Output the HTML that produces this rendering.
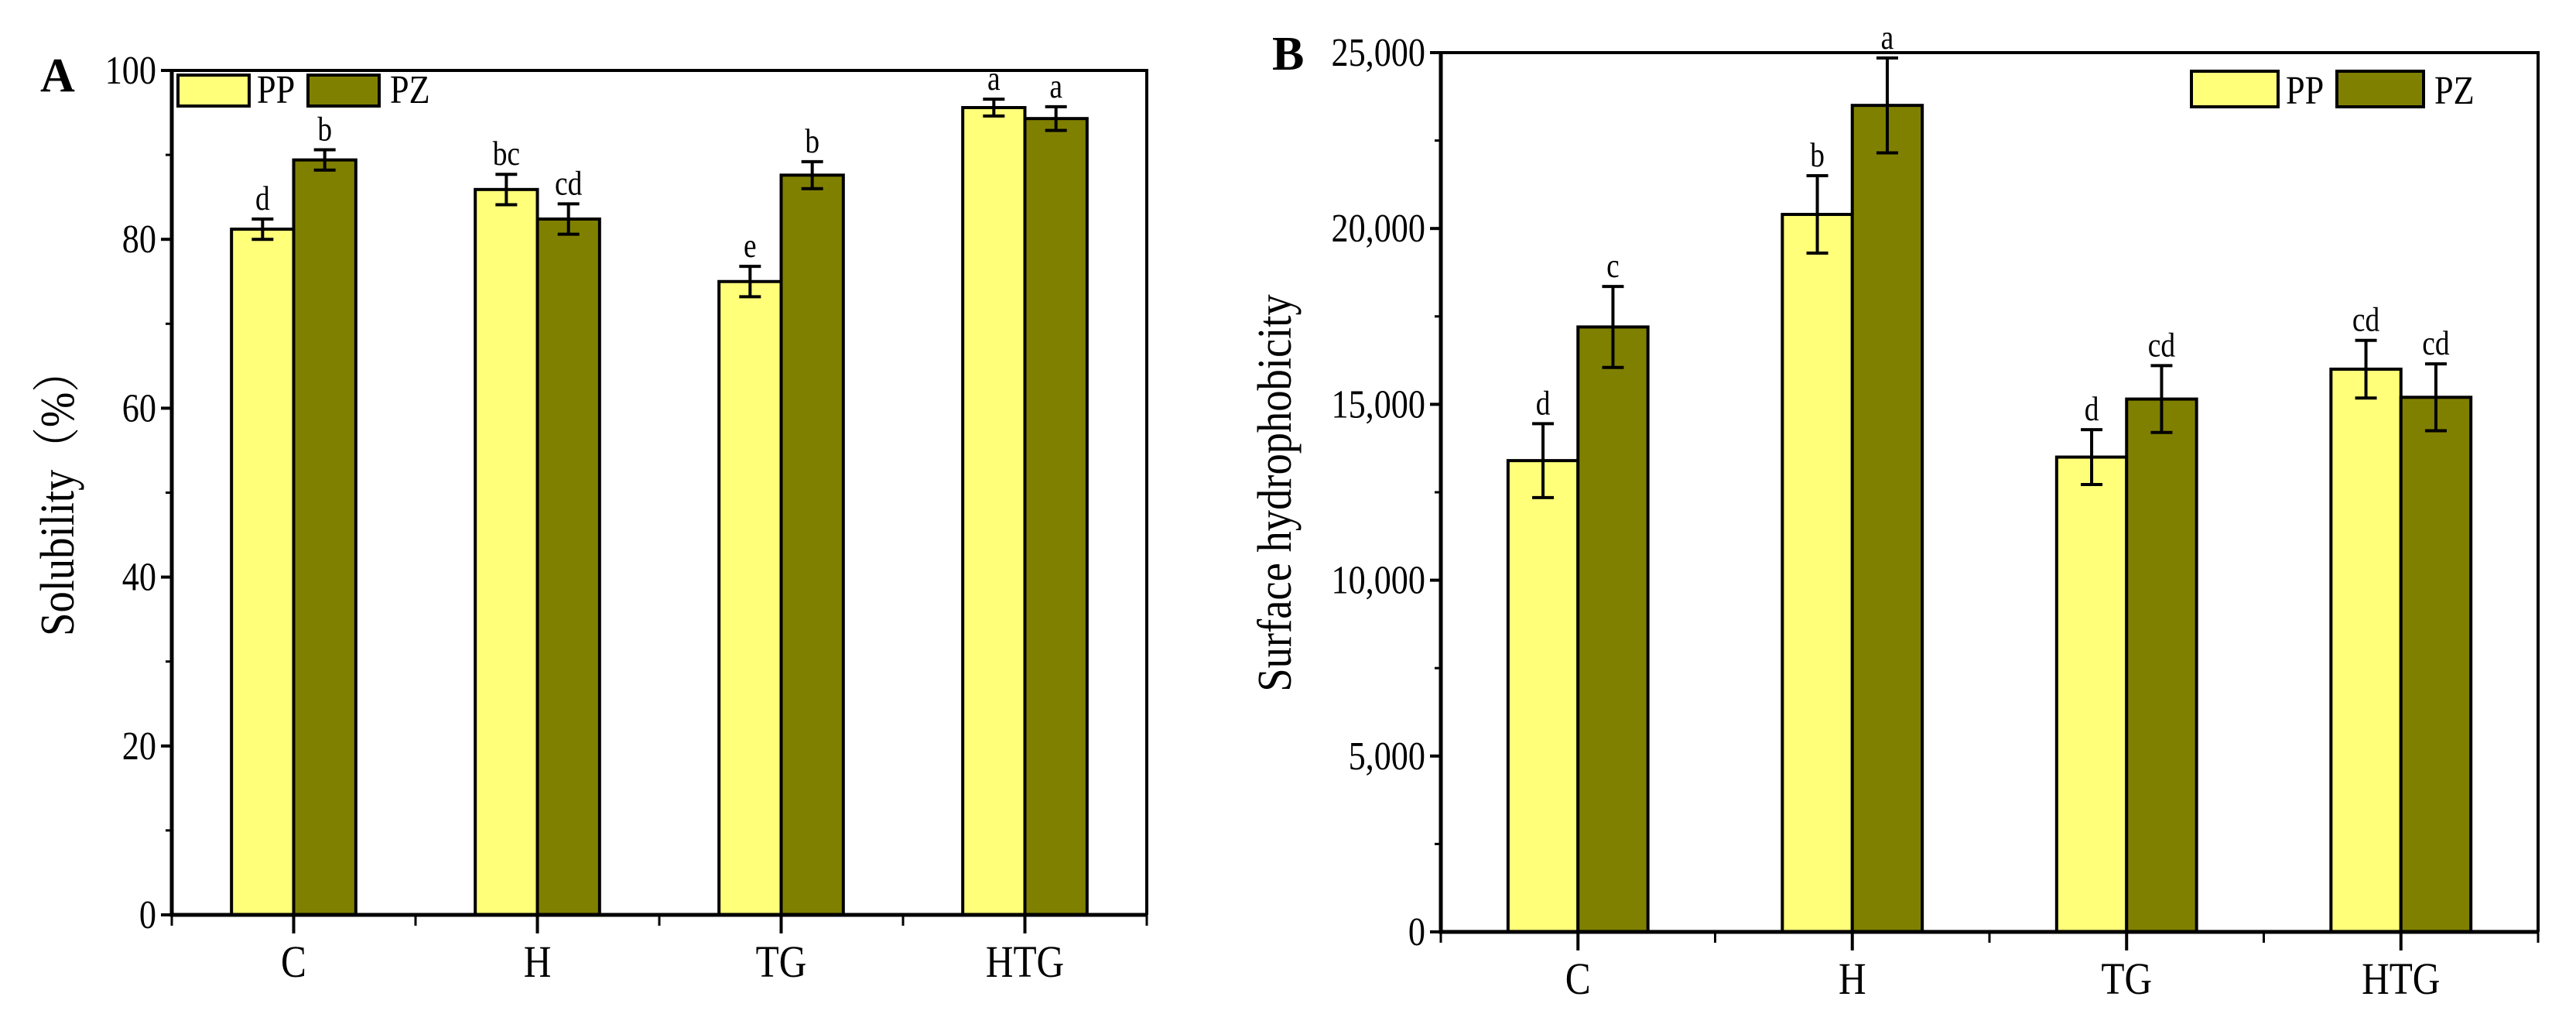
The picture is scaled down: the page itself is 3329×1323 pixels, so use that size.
<!DOCTYPE html>
<html><head><meta charset="utf-8"><style>
html,body{margin:0;padding:0;background:#fff}
svg{display:block}
text{font-family:"Liberation Serif","Noto Serif CJK SC",serif;fill:#000}
</style></head><body>
<svg id="chart" width="3329" height="1323" viewBox="0 0 3329 1323" xmlns="http://www.w3.org/2000/svg"></svg>
<script>
const categories = ["C","H","TG","HTG"];
const aPP = [81.2, 85.9, 75.0, 95.6];
const aPZ = [89.4, 82.4, 87.6, 94.3];
const aPPerr = [1.2, 1.8, 1.8, 1.0];
const aPZerr = [1.2, 1.8, 1.6, 1.4];
const aPPlab = ["d","bc","e","a"];
const aPZlab = ["b","cd","b","a"];
const aTicks = [0,20,40,60,80,100];
const aTickLabels = ["0","20","40","60","80","100"];
const bPP = [13400, 20400, 13500, 16000];
const bPZ = [17200, 23500, 15150, 15200];
const bPPerr = [1050, 1100, 780, 820];
const bPZerr = [1150, 1350, 950, 950];
const bPPlab = ["d","b","d","cd"];
const bPZlab = ["c","a","cd","cd"];
const bTicks = [0,5000,10000,15000,20000,25000];
const bTickLabels = ["0","5,000","10,000","15,000","20,000","25,000"];

const NS="http://www.w3.org/2000/svg";
const svg=document.getElementById('chart');
function mk(tag,attrs,parent,txt){const e=document.createElementNS(NS,tag);for(const k in attrs)e.setAttribute(k,attrs[k]);if(txt!==undefined)e.textContent=txt;(parent||svg).appendChild(e);return e;}
// condensed text: scale horizontally around anchor point
function ctext(parent,x,y,anchor,size,txt,sx){
  const t=mk('text',{x:0,y:0,'text-anchor':anchor,'font-size':size,transform:`translate(${x} ${y}) scale(${sx||0.85} 1)`},parent,txt);
  return t;
}

function panel(cfg){
  const g=mk('g',{});
  
  
  const {x0,x1,y0,y1,ymax}=cfg;
  const ys=v=>y1-(v/ymax)*(y1-y0);
  const step=(x1-x0)/4;
  const xc=i=>x0+step*(i+0.5);
  const bw=step*0.255;
  for(let i=0;i<categories.length;i++){
    const r1=mk('rect',{x:xc(i)-bw,y:ys(cfg.pp[i]),width:bw,height:y1-ys(cfg.pp[i]),fill:'#ffff7a',stroke:'#000','stroke-width':4},g);
    
    
    const r2=mk('rect',{x:xc(i),y:ys(cfg.pz[i]),width:bw,height:y1-ys(cfg.pz[i]),fill:'#808000',stroke:'#000','stroke-width':4},g);
    
    
    [[xc(i)-bw/2,cfg.pp[i],cfg.ppe[i],cfg.ppl[i],'pp'],[xc(i)+bw/2,cfg.pz[i],cfg.pze[i],cfg.pzl[i],'pz']].forEach(([cx,v,e,l,s])=>{
      const eg=mk('g',{stroke:'#000','stroke-width':4},g);
      
      
      mk('line',{x1:cx,x2:cx,y1:ys(v+e),y2:ys(v-e)},eg);
      mk('line',{x1:cx-14,x2:cx+14,y1:ys(v+e),y2:ys(v+e)},eg);
      mk('line',{x1:cx-14,x2:cx+14,y1:ys(v-e),y2:ys(v-e)},eg);
      const t=ctext(g,cx,ys(v+e)-12,'middle',44,l);
      
      
    });
    const cl=ctext(g,xc(i),cfg.catY,'middle',58,categories[i]);
    
    
    mk('line',{x1:xc(i),x2:xc(i),y1:y1,y2:y1+24,stroke:'#000','stroke-width':4},g);
    mk('line',{x1:x0+step*i,x2:x0+step*i,y1:y1,y2:y1+14,stroke:'#000','stroke-width':3},g);
  }
  mk('line',{x1:x1,x2:x1,y1:y1,y2:y1+14,stroke:'#000','stroke-width':3},g);
  cfg.ticks.forEach((v,k)=>{
    mk('line',{x1:x0-14,x2:x0,y1:ys(v),y2:ys(v),stroke:'#000','stroke-width':4},g);
    if(k<cfg.ticks.length-1){const m=(v+cfg.ticks[k+1])/2;mk('line',{x1:x0-8,x2:x0,y1:ys(m),y2:ys(m),stroke:'#000','stroke-width':3},g);}
    const t=ctext(g,x0-20,ys(v)+17,'end',52,cfg.tickLabels[k]);
    
    
  });
  const ax=mk('path',{d:`M${x0} ${y0} L${x0} ${y1} L${x1} ${y1}`,fill:'none',stroke:'#000','stroke-width':5},g);
  
  
  mk('path',{d:`M${x0} ${y0} L${x1} ${y0} L${x1} ${y1}`,fill:'none',stroke:'#000','stroke-width':4},g);
  const yt=mk('text',{x:0,y:0,'text-anchor':'middle','font-size':62,transform:`translate(${cfg.titleX} 637) rotate(-90) scale(0.88 1)`},g,cfg.title);
  
  
  const pl=mk('text',{x:cfg.letterX,y:cfg.letterY,'font-size':62,'font-weight':'bold'},g,cfg.letter);
  
  
  const lg=mk('g',{},g);
  
  
  const L=cfg.legend;
  const e1=mk('g',{},lg);
  
  
  mk('rect',{x:L.x,y:L.y,width:L.w,height:L.h,fill:'#ffff7a',stroke:'#000','stroke-width':4},e1);
  ctext(e1,L.x+L.w+10,L.y+L.h-4,'start',L.fs,'PP');
  const e2=mk('g',{},lg);
  
  
  mk('rect',{x:L.x2,y:L.y,width:L.w,height:L.h,fill:'#808000',stroke:'#000','stroke-width':4},e2);
  ctext(e2,L.x2+L.w+14,L.y+L.h-4,'start',L.fs,'PZ');
}

panel({name:'panel-a-solubility',x0:222,x1:1482,y0:91,y1:1182,ymax:100,pp:aPP,pz:aPZ,ppe:aPPerr,pze:aPZerr,ppl:aPPlab,pzl:aPZlab,ticks:aTicks,tickLabels:aTickLabels,catY:1262,title:'Solubility（%）',titleX:95,letter:'A',letterX:52,letterY:118,legend:{x:230,y:97,w:92,h:40,x2:398,fs:52}});
panel({name:'panel-b-hydrophobicity',x0:1862,x1:3280,y0:68,y1:1204,ymax:25000,pp:bPP,pz:bPZ,ppe:bPPerr,pze:bPZerr,ppl:bPPlab,pzl:bPZlab,ticks:bTicks,tickLabels:bTickLabels,catY:1284,title:'Surface hydrophobicity',titleX:1668,letter:'B',letterX:1644,letterY:90,legend:{x:2832,y:92,w:112,h:46,x2:3020,fs:52}});
</script>
</body></html>
